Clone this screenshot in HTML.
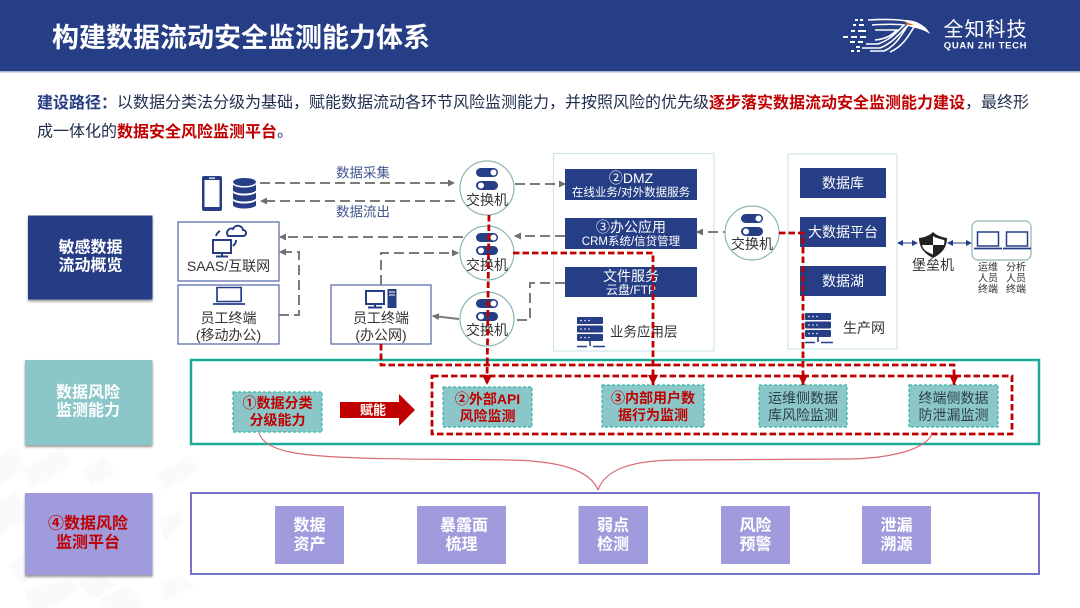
<!DOCTYPE html>
<html lang="zh"><head><meta charset="utf-8"><title>构建数据流动安全监测能力体系</title>
<style>
html,body{margin:0;padding:0;background:#fff}
svg{display:block}
text{font-family:"Liberation Sans","Noto Sans CJK SC",sans-serif;text-anchor:middle;dominant-baseline:central}
.l{text-anchor:start}
.b{font-weight:700}
.g{fill:none;stroke:#7b7b7b;stroke-width:2;stroke-dasharray:10 5}
.r{fill:none;stroke:#c00000;stroke-width:2.800;stroke-dasharray:6.500 3}
.n{fill:#263e86}
.k{fill:#333;font-size:14px}
.sw{fill:#fff;stroke:#8fb5b5;stroke-width:1.200}
</style></head><body>
<svg width="1080" height="608" viewBox="0 0 1080 608" xmlns="http://www.w3.org/2000/svg">
<defs>
<marker id="ag" markerWidth="8" markerHeight="8" refX="6" refY="3.500" orient="auto" markerUnits="userSpaceOnUse"><path d="M0 0L7 3.500L0 7z" fill="#6f6f6f"/></marker>
<marker id="ar" markerWidth="12" markerHeight="10" refX="10" refY="5" orient="auto" markerUnits="userSpaceOnUse"><path d="M0 0L10 5L0 10z" fill="#c00000"/></marker>
<filter id="sh" x="-10%" y="-10%" width="120%" height="120%"><feDropShadow dx="0" dy="2" stdDeviation="1.200" flood-color="#000" flood-opacity=".4"/></filter>
<g id="sv"><rect x="-11" y="-20" width="22" height="9" rx="4.500" class="n"/><circle cx="6.500" cy="-15.500" r="3" fill="#fff"/><rect x="-11" y="-7" width="22" height="9" rx="4.500" class="n"/><circle cx="-6" cy="-2.500" r="3" fill="#fff"/></g>
<g id="srv"><rect x="0" y="0" width="26" height="7" rx="1" class="n"/><rect x="0" y="8.500" width="26" height="7" rx="1" class="n"/><rect x="0" y="17" width="26" height="7" rx="1" class="n"/><g fill="#fff"><circle cx="4" cy="3.500" r=".8"/><circle cx="8" cy="3.500" r=".8"/><circle cx="12" cy="3.500" r=".8"/><circle cx="4" cy="12" r=".8"/><circle cx="8" cy="12" r=".8"/><circle cx="12" cy="12" r=".8"/><circle cx="4" cy="20.500" r=".8"/><circle cx="8" cy="20.500" r=".8"/><circle cx="12" cy="20.500" r=".8"/></g><path d="M13 24v5M0 29.500h10M16 29.500h12" stroke="#263e86" stroke-width="1.600" fill="none"/></g>
<g id="lap"><rect x="3.500" y="0" width="21" height="14" fill="#fff" stroke="#263e86" stroke-width="1.500"/><path d="M0 16.500h28" stroke="#263e86" stroke-width="1.800"/></g>
</defs>
<rect width="1080" height="608" fill="#fff"/>
<g fill="#fafafc">
<path d="M0 455L15 447L27 468L0 484z"/><path d="M22 470L62 448L72 465L32 488z"/><path d="M82 470L105 457L115 473L92 486z"/><path d="M155 475L190 455L198 470L165 490z"/><path d="M0 500L15 490L30 515L0 535z"/><path d="M8 565L50 540L62 560L20 585z"/><path d="M75 580L100 575L118 585L92 600z"/><path d="M160 520L180 510L185 520L165 542z"/><path d="M160 585L180 575L195 585L165 600z"/><path d="M25 590L70 578L80 590L50 608H30z"/><path d="M100 598L130 585L145 608H105z"/>
</g>
<rect width="1080" height="71" fill="#263e86"/><rect y="71" width="1080" height="1.500" fill="#a8b3d2"/>
<text x="52" y="38" class="l b" font-size="27" fill="#fff">构建数据流动安全监测能力体系</text>
<g fill="none" stroke="#fff" stroke-width="1.600">
<path d="M868 20C885 19 900 19 911 22C902 30 895 42 880 48L862 48"/><path d="M872 25C885 24 896 24 904 25C897 32 890 40 878 44L866 44"/><path d="M875 30H897C892 35 886 39 875 40"/><path d="M908 25C902 34 896 46 884 51L870 51"/><path d="M914 27C908 37 902 47 890 52"/>
</g>
<path d="M905 20C915 20 926 25 930 34C923 29 915 28 908 26z" fill="#fff"/><path d="M904 21L914 25L908 25z" fill="#e8702a"/>
<g fill="#fff"><rect x="855" y="19" width="3" height="2"/><rect x="860" y="19" width="3" height="2"/><rect x="853" y="24" width="3" height="2"/><rect x="859" y="24" width="5" height="2"/><rect x="851" y="30" width="4" height="2"/><rect x="858" y="30" width="8" height="2"/><rect x="843" y="36" width="5" height="2"/><rect x="851" y="36" width="6" height="2"/><rect x="860" y="36" width="6" height="2"/><rect x="850" y="41" width="5" height="2"/><rect x="858" y="41" width="5" height="2"/><rect x="856" y="46" width="4" height="2"/><rect x="851" y="50" width="3" height="2"/><rect x="857" y="50" width="3" height="2"/></g>
<text x="985.500" y="30" font-size="20" fill="#fff" letter-spacing="1">全知科技</text>
<text x="985.500" y="46" font-size="9.500" font-weight="700" fill="#fff" letter-spacing=".7">QUAN ZHI TECH</text>
<text x="37" y="103" class="l" font-size="16" fill="#1f2d4d"><tspan font-weight="700" fill="#263e86">建设路径&#xFF1A;</tspan>以数据分类法分级为基础&#xFF0C;赋能数据流动各环节风险监测能力&#xFF0C;并按照风险的优先级<tspan font-weight="700" fill="#c00000">逐步落实数据流动安全监测能力建设</tspan>&#xFF0C;最终形</text>
<text x="37" y="132" class="l" font-size="16" fill="#1f2d4d">成一体化的<tspan font-weight="700" fill="#c00000">数据安全风险监测平台</tspan>&#x3002;</text>
<rect x="28" y="215.500" width="124.500" height="84" class="n" filter="url(#sh)"/>
<text x="90.500" y="248" class="b" font-size="16" fill="#fff">敏感数据</text><text x="90.500" y="266" class="b" font-size="16" fill="#fff">流动概览</text>
<rect x="25" y="360" width="127.500" height="85" fill="#8bc7c9" filter="url(#sh)"/>
<text x="88" y="393" class="b" font-size="16" fill="#fff">数据风险</text><text x="88" y="411" class="b" font-size="16" fill="#fff">监测能力</text>
<rect x="25" y="493" width="127.500" height="82" fill="#a09bdc" filter="url(#sh)"/>
<text x="88" y="524" class="b" font-size="16" fill="#c00000">④数据风险</text><text x="88" y="543" class="b" font-size="16" fill="#c00000">监测平台</text>
<rect x="202" y="176" width="20" height="35" rx="2" class="n"/><rect x="204.500" y="180" width="15" height="27" fill="#fff"/><rect x="209" y="177.500" width="6" height="1.200" fill="#fff"/>
<g class="n"><ellipse cx="244.500" cy="182" rx="11.500" ry="4"/><path d="M233 184.500c3 4 20 4 23 0v6c-3 4-20 4-23 0z"/><path d="M233 192.500c3 4 20 4 23 0v6c-3 4-20 4-23 0z"/><path d="M233 200.500c3 4 20 4 23 0v5c-3 4-20 4-23 0z"/></g>
<text x="363" y="173" font-size="13.500" fill="#45588f">数据采集</text><text x="363" y="212" font-size="13.500" fill="#45588f">数据流出</text>
<rect x="178" y="222" width="101" height="59" fill="#fff" stroke="#4f65a8" stroke-width="1.200"/>
<rect x="178" y="285" width="101" height="59" fill="#fff" stroke="#4f65a8" stroke-width="1.200"/>
<rect x="331" y="285" width="100" height="59" fill="#fff" stroke="#4f65a8" stroke-width="1.200"/>
<g fill="none" stroke="#263e86" stroke-width="2"><rect x="213" y="240" width="18" height="13"/><path d="M222 253v3M216 256.500h12"/><path d="M228 236c-3-5 2-9 5-7c2-5 9-4 10 1c4 0 4 6 0 6z"/><path d="M216 236c1-3 2-4 4-5M236 240c0 3-1 4-3 6"/></g>
<text x="228.500" y="266" class="k">SAAS/互联网</text>
<g transform="translate(213 287.500) scale(1.150 1)"><use href="#lap"/></g>
<text x="228.500" y="318" class="k">员工终端</text><text x="228.500" y="335" class="k">(移动办公)</text>
<g fill="none" stroke="#263e86" stroke-width="2"><rect x="366" y="291" width="18" height="13"/><path d="M375 304v3M368 307.500h14" stroke-width="2"/></g><rect x="387.500" y="289" width="9" height="19" class="n"/><path d="M389 292h6M389 295h6" stroke="#fff"/>
<text x="381" y="318" class="k">员工终端</text><text x="381" y="335" class="k">(办公网)</text>
<rect x="553.500" y="153.500" width="160.500" height="197.500" fill="#fff" stroke="#cfe6e8" stroke-width="1.200"/>
<rect x="788" y="154" width="109" height="195" fill="#fff" stroke="#cfe6e8" stroke-width="1.200"/>
<rect x="565" y="169" width="132" height="31" class="n"/><rect x="565" y="218" width="132" height="31" class="n"/><rect x="565" y="267" width="132" height="30" class="n"/>
<text x="631" y="178" font-size="14" fill="#fff">②DMZ</text><text x="631" y="193" font-size="11.500" fill="#fff">在线业务/对外数据服务</text>
<text x="631" y="227" font-size="14" fill="#fff">③办公应用</text><text x="631" y="242" font-size="11.500" fill="#fff">CRM系统/信贷管理</text>
<text x="631" y="276" font-size="14" fill="#fff">文件服务</text><text x="631" y="290" font-size="12" fill="#fff">云盘/FTP</text>
<use href="#srv" x="577" y="317"/><text x="610" y="332" class="l" font-size="13.500" fill="#333">业务应用层</text>
<rect x="800" y="168" width="86" height="30" class="n"/><rect x="800" y="217" width="86" height="30" class="n"/><rect x="800" y="266" width="86" height="30" class="n"/>
<text x="843" y="183" font-size="14" fill="#fff">数据库</text><text x="843" y="232" font-size="14" fill="#fff">大数据平台</text><text x="843" y="281" font-size="14" fill="#fff">数据湖</text>
<use href="#srv" x="805" y="313"/><text x="843" y="328" class="l k">生产网</text>
<path class="g" d="M260 183H454" marker-end="url(#ag)"/><path class="g" d="M455 201H261" marker-end="url(#ag)"/>
<path class="g" d="M515 184H565" marker-end="url(#ag)"/><path class="g" d="M463 237H280" marker-end="url(#ag)"/><path class="g" d="M565 236H515" marker-end="url(#ag)"/>
<path class="g" d="M279 315H299V252H280" marker-end="url(#ag)"/><path class="g" d="M381 285V253H458" marker-end="url(#ag)"/>
<path d="M459 319L433 316" fill="none" stroke="#7b7b7b" stroke-width="2" marker-end="url(#ag)"/>
<path class="g" d="M565 283H530V320H507" marker-end="url(#ag)"/><path class="g" d="M733 232H697" marker-end="url(#ag)"/>
<circle cx="487" cy="188" r="27" class="sw"/><use href="#sv" x="487" y="188"/><text x="487" y="200" class="k">交换机</text>
<circle cx="487" cy="253" r="27" class="sw"/><use href="#sv" x="487" y="253"/><text x="487" y="265" class="k">交换机</text>
<circle cx="487" cy="319" r="27" class="sw"/><use href="#sv" x="487" y="319"/><text x="487" y="330" class="k">交换机</text>
<circle cx="752" cy="233" r="27" class="sw"/><use href="#sv" x="752" y="234"/><text x="752" y="244" class="k">交换机</text>
<path d="M919 238C926 237 930 235 933 232C936 235 941 237 947 238C947 248 941 254 933 258C925 254 919 248 919 238z" fill="#222"/><path d="M933 236V245H922C923 250 927 252 933 254.500V245H944C944.500 242 944.500 240 944 240C940 239 936 238 933 236z" fill="#fff"/>
<text x="933" y="265" class="k">堡垒机</text>
<path d="M899 243H916" stroke="#263e86" stroke-width="1"/><path d="M897 243L903 240V246zM918 243L912 240V246z" fill="#263e86"/>
<path d="M949 243H971" stroke="#263e86" stroke-width="1"/><path d="M947 243L953 240V246zM972 243L966 240V246z" fill="#263e86"/>
<rect x="972" y="221" width="59" height="39" rx="6" fill="#fff" stroke="#8fb5b5" stroke-width="1.200"/>
<use href="#lap" x="974" y="232"/><use href="#lap" x="1003" y="232"/>
<g font-size="10" fill="#333"><text x="988" y="268">运维</text><text x="988" y="279">人员</text><text x="988" y="290">终端</text><text x="1016" y="268">分析</text><text x="1016" y="279">人员</text><text x="1016" y="290">终端</text></g>
<rect x="191" y="360" width="848" height="84" fill="#fff" stroke="#1aaa96" stroke-width="2.500"/>
<rect x="191" y="493" width="848" height="81" fill="#fff" stroke="#7473cc" stroke-width="2"/>
<g fill="#8bc7c9" stroke="#35b8a8" stroke-width="1.200" stroke-dasharray="3 2">
<rect x="233" y="392" width="89" height="40"/><rect x="443" y="387" width="89" height="40"/><rect x="602" y="385" width="102" height="42"/><rect x="759" y="385" width="88" height="42"/><rect x="909" y="385" width="89" height="42"/>
</g>
<g font-size="14">
<text x="277.500" y="403" class="b" fill="#c00000">①数据分类</text><text x="277.500" y="420" class="b" fill="#c00000">分级能力</text>
<text x="487.500" y="399" class="b" fill="#c00000">②外部API</text><text x="487.500" y="416" class="b" fill="#c00000">风险监测</text>
<text x="653" y="398" class="b" fill="#c00000">③内部用户数</text><text x="653" y="415" class="b" fill="#c00000">据行为监测</text>
<text x="803" y="398" fill="#2d3d4a">运维侧数据</text><text x="803" y="415" fill="#2d3d4a">库风险监测</text>
<text x="953.500" y="398" fill="#2d3d4a">终端侧数据</text><text x="953.500" y="415" fill="#2d3d4a">防泄漏监测</text>
</g>
<path d="M340 402H399V394L415 410L399 426V418H340z" fill="#c00000"/><text x="373" y="410" class="b" font-size="13" fill="#fff">赋能</text>
<path class="r" d="M432 376H1012V434H432z"/>
<path class="r" d="M489 215L487 385" marker-end="url(#ar)"/>
<path class="r" d="M513 253H653V385" marker-end="url(#ar)"/>
<path class="r" d="M779 233H803V385" marker-end="url(#ar)"/>
<path class="r" d="M381 344V365H954V385" marker-end="url(#ar)"/>
<path d="M259 433C265 452 300 456 360 458C420 460 470 459 510 460C560 461 590 470 598 490" fill="none" stroke="#d96a72" stroke-width="1.200"/>
<path d="M932 434C925 450 890 458 850 459L680 460C630 460 605 470 598 490" fill="none" stroke="#d96a72" stroke-width="1.200"/>
<g fill="#a09bdc"><rect x="275" y="506" width="69" height="58"/><rect x="417" y="506" width="89" height="58"/><rect x="578.500" y="506" width="69.500" height="58"/><rect x="721" y="506" width="69" height="58"/><rect x="862" y="506" width="69" height="58"/></g>
<g font-size="16" fill="#fff" font-weight="700">
<text x="309.500" y="526">数据</text><text x="309.500" y="545">资产</text>
<text x="464" y="526">暴露面</text><text x="461.500" y="545">梳理</text>
<text x="613" y="526">弱点</text><text x="613" y="545">检测</text>
<text x="755.500" y="526">风险</text><text x="755.500" y="545">预警</text>
<text x="896.500" y="526">泄漏</text><text x="896.500" y="545">溯源</text>
</g>
</svg>
</body></html>
